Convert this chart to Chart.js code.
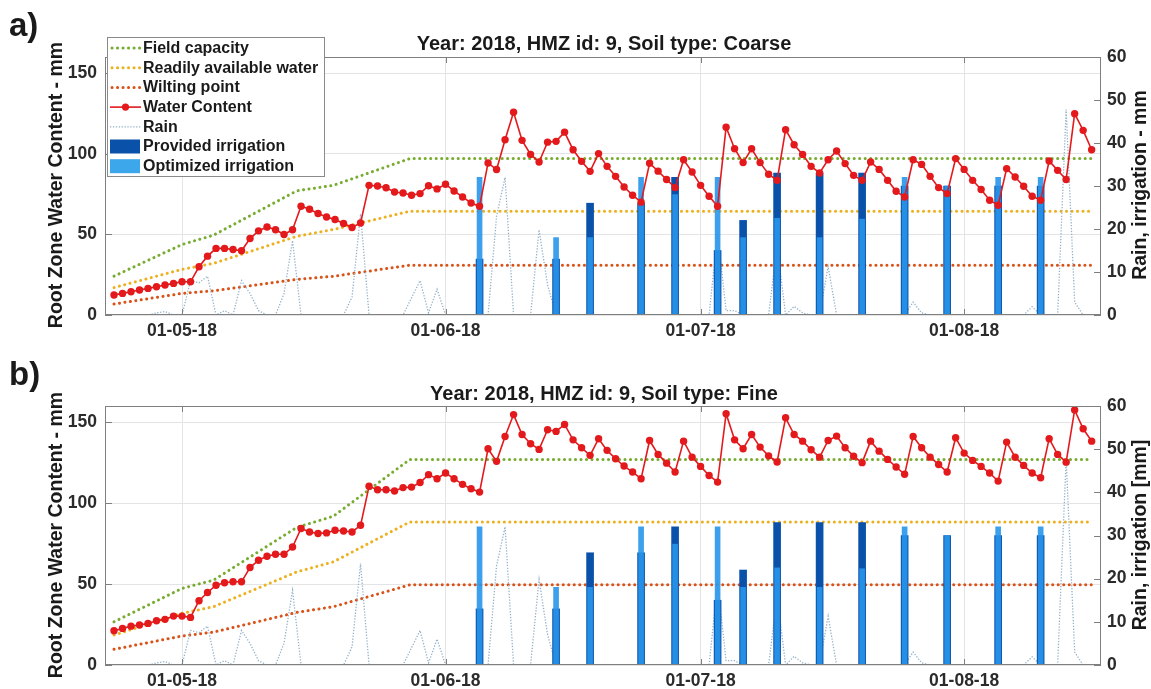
<!DOCTYPE html>
<html>
<head>
<meta charset="utf-8">
<script src="https://cdn.jsdelivr.net/npm/chart.js@4.4.1/dist/chart.umd.min.js"></script>
<style>
  body { margin:0; background:#fff; }
  #wrap { position:relative; width:1151px; height:689px; overflow:hidden; background:#fff;
          font-family:'Liberation Sans', Arial, Helvetica, sans-serif; }
  canvas { position:absolute; left:0; }
  .t { position:absolute; font-weight:bold; color:#1a1a1a; white-space:nowrap; line-height:1; }
  .c { transform:translate(-50%,-50%); }
  .r { transform:translate(-50%,-50%) rotate(-90deg); }
</style>
</head>
<body>
<div id="wrap">
  <canvas id="cA" width="1151" height="345" style="top:0"></canvas>
  <canvas id="cB" width="1151" height="344" style="top:345px"></canvas>
  <div class="t" style="left:9px;top:8px;font-size:33px">a)</div>
  <div class="t" style="left:9px;top:357px;font-size:33px">b)</div>
  <div class="t c" style="left:604px;top:43px;font-size:20px">Year: 2018, HMZ id: 9, Soil type: Coarse</div>
  <div class="t c" style="left:604px;top:393px;font-size:20px">Year: 2018, HMZ id: 9, Soil type: Fine</div>
  <div class="t r" style="left:56px;top:185px;font-size:19.5px">Root Zone Water Content - mm</div>
  <div class="t r" style="left:56px;top:535px;font-size:19.5px">Root Zone Water Content - mm</div>
  <div class="t r" style="left:1140px;top:185px;font-size:19.5px">Rain, irrigation - mm</div>
  <div class="t r" style="left:1140px;top:535px;font-size:19.5px">Rain, irrigation [mm]</div>
</div>
<script>
// ---- x axis: days since 23-04-2018 ----
const tickDays   = [8, 39, 69, 100];
const tickLabels = ['01-05-18', '01-06-18', '01-07-18', '01-08-18'];

// ---- water content (mm), one value per day from 23-04-2018 ----
const wcA = [12.4,13.4,14.4,15.5,16.5,17.5,18.6,19.6,20.6,20.6,
  29.9,36.5,41.3,41.3,40.6,39.8,47.4,52.2,54.6,52.9,
  49.9,52.9,67.4,65.6,62.9,60.8,59.2,56.7,54.3,57.1,
  80.4,80.0,78.9,76.3,75.7,74.3,75.3,80.2,78.2,81.1,
  76.9,73.2,69.5,67.4,94.3,90.2,108.7,125.8,108.3,99.6,
  94.9,107.2,107.7,113.4,102.5,95.3,89.1,100.1,92.2,86.0,
  79.4,74.3,70.0,94.1,89.2,84.0,79.0,96.3,88.7,80.4,
  73.6,67.4,116.5,103.1,94.5,103.1,94.5,87.3,83.5,114.9,
  105.6,99.6,92.2,88.1,96.3,101.7,93.9,86.6,83.5,94.9,
  90.3,83.5,76.7,73.2,96.3,93.4,86.0,79.0,75.3,97.0,
  90.3,83.5,77.8,71.2,68.1,90.8,85.6,79.8,73.6,71.2,
  95.5,89.7,84.0,124.8,114.5,102.5];
const wcB = [21.2,22.6,24.0,24.7,25.7,27.3,28.2,30.2,30.2,29.4,
  39.7,44.8,49.3,50.8,51.4,51.4,60.2,64.7,67.2,68.4,
  68.4,72.9,84.3,82.2,81.2,81.6,83.2,82.8,82.2,86.3,
  110.4,108.3,108.3,107.5,109.6,109.9,112.7,117.6,115.1,118.6,
  115.1,111.6,108.9,106.8,133.6,125.8,141.2,154.7,142.4,136.7,
  133.2,145.3,144.3,148.6,139.1,134.2,129.5,139.8,132.6,127.4,
  122.9,119.2,115.1,138.7,130.1,124.7,119.2,138.3,128.4,122.7,
  117.1,113.0,155.2,139.1,133.6,142.4,134.6,129.2,125.4,152.7,
  142.4,138.3,133.0,128.4,138.7,141.4,134.2,129.0,125.0,138.3,
  132.1,127.0,122.3,117.8,141.2,134.2,128.4,123.9,119.2,140.4,
  130.9,126.4,122.7,118.6,113.6,137.7,128.4,123.3,118.6,115.7,
  139.8,130.1,125.3,157.6,145.9,138.3];

// ---- rain (mm/day) ----
const rain = [0,0,0,0,0,0.5,0.8,0,0,8,
  7.5,9,0,1,0,8,5,1,0,0,
  5,17.3,0,0,0,0,0,0,4.2,23.5,
  0,0,0,0,0,4,8,0.5,6,0,
  0,0,0,0,0,23,32,0,0,0,
  19.8,7,0,0,0,0,0,0,0,0,
  0,0,0,0,0,0,0,0,0,0,
  0,19,1,1,0,0,0,0,16,0,
  2,0.5,0,0,11.3,0,0,0,0,0,
  0,0,0,0,3,0.5,0,0,0,0,
  0,0,0,0,0,0,0,0,1.9,0,
  0,0,47.8,3,0,0];

// ---- irrigation events ----
const irrDays   = [43, 52, 56, 62, 66, 71, 74, 78, 83, 88, 93, 98, 104, 109];
const provided  = [13, 13, 26, 26, 32, 15, 22, 33, 33, 33, 30, 30, 30, 30];
const optimized = [32, 18, 18, 32, 28, 32, 18, 22.5, 18, 22.3, 32, 30, 32, 32];

// ---- soil thresholds (vertices of the piecewise lines) ----
const thrDays = [0, 8, 11.7, 21.5, 25.8, 34.8, 115];
const fcA  = [24.1, 43.7, 49.5, 77.0, 80.4, 97.0, 97.0];
const rawA = [17.0, 28.3, 32.0, 48.8, 53.0, 64.4, 64.4];
const wpA  = [6.8, 13.4, 15.0, 22.1, 24.0, 30.9, 30.9];
const fcB  = [26.7, 47.3, 52.4, 85.0, 91.9, 127.0, 127.0];
const rawB = [18.5, 31.9, 36.0, 57.5, 63.7, 88.4, 88.4];
const wpB  = [9.7, 17.9, 20.3, 32.5, 36.0, 49.5, 49.5];

const leftTicks  = [0, 50, 100, 150];
const rightTicks = [0, 10, 20, 30, 40, 50, 60];

const COL = {
  fc: '#77ac30', raw: '#edb120', wp: '#d95319', wc: '#e3191c',
  rain: '#93b2c9', prov: '#0a51aa', opt: 'rgba(40,150,235,0.9)', optLeg: '#3ca7ea'
};
const FONT = "'Liberation Sans', Arial, sans-serif";

const series = (ys) => ys.map((v, i) => ({ x: i, y: v }));
const pairs = (xs, ys) => xs.map((x, i) => ({ x: x, y: ys[i] }));

function dotted(label, xs, ys, color, order) {
  return { type: 'line', label, data: pairs(xs, ys), borderColor: color, backgroundColor: color,
    borderWidth: 3, borderDash: [0.1, 5.4], borderCapStyle: 'round', pointRadius: 0,
    tension: 0, yAxisID: 'y', order, kind: 'dot' };
}

const frame = {
  id: 'frame',
  afterDraw(chart, args, opts) {
    const ctx = chart.ctx;
    const { left, right, top, bottom } = chart.chartArea;
    ctx.save();
    ctx.strokeStyle = '#7f7f7f';
    ctx.lineWidth = 1;
    ctx.strokeRect(left + 0.5, top + 0.5, right - left - 1, bottom - top - 1);
    ctx.beginPath();
    chart.scales.x.ticks.forEach(t => {
      const p = Math.round(chart.scales.x.getPixelForValue(t.value)) + 0.5;
      ctx.moveTo(p, bottom); ctx.lineTo(p, bottom - 6);
      ctx.moveTo(p, top); ctx.lineTo(p, top + 6);
    });
    chart.scales.y.ticks.forEach(t => {
      const p = Math.round(chart.scales.y.getPixelForValue(t.value)) + 0.5;
      ctx.moveTo(left, p); ctx.lineTo(left + 7, p);
    });
    chart.scales.y1.ticks.forEach(t => {
      const p = Math.round(chart.scales.y1.getPixelForValue(t.value)) + 0.5;
      ctx.moveTo(right, p); ctx.lineTo(right - 7, p);
    });
    ctx.stroke();

    if (opts.legend) {
      const bx = 107, by = 37, bw = 217, bh = 139;
      ctx.fillStyle = '#fff';
      ctx.fillRect(bx, by, bw, bh);
      ctx.strokeStyle = '#8a8a8a';
      ctx.strokeRect(bx + 0.5, by + 0.5, bw, bh);
      ctx.font = 'bold 16px ' + FONT;
      ctx.textBaseline = 'middle';
      chart.data.datasets.forEach((ds, i) => {
        const y = 48 + i * 19.7;
        ctx.save();
        if (ds.kind === 'dot') {
          ctx.strokeStyle = ds.borderColor; ctx.lineWidth = 3; ctx.lineCap = 'round';
          ctx.setLineDash([0.1, 5.4]);
          ctx.beginPath(); ctx.moveTo(112, y); ctx.lineTo(140, y); ctx.stroke();
        } else if (ds.kind === 'wc') {
          ctx.strokeStyle = ds.borderColor; ctx.lineWidth = 1.6;
          ctx.beginPath(); ctx.moveTo(110, y); ctx.lineTo(141, y); ctx.stroke();
          ctx.fillStyle = ds.borderColor;
          ctx.beginPath(); ctx.arc(125.5, y, 3.6, 0, Math.PI * 2); ctx.fill();
        } else if (ds.kind === 'rain') {
          ctx.strokeStyle = ds.borderColor; ctx.lineWidth = 1.3; ctx.setLineDash([1.3, 1.6]);
          ctx.beginPath(); ctx.moveTo(110, y); ctx.lineTo(141, y); ctx.stroke();
        } else if (ds.kind === 'bar') {
          ctx.fillStyle = ds.legendColor;
          ctx.fillRect(110, y - 7, 30, 14);
        }
        ctx.restore();
        ctx.fillStyle = '#1a1a1a';
        ctx.fillText(ds.label, 143, y + 0.5);
      });
    }
    ctx.restore();
  }
};

function makeChart(canvasId, wc, fc, raw, wp, padTop, xH, withLegend) {
  const datasets = [
    dotted('Field capacity', thrDays, fc, COL.fc, 6),
    dotted('Readily available water', thrDays, raw, COL.raw, 5),
    dotted('Wilting point', thrDays, wp, COL.wp, 4),
    { type: 'line', label: 'Water Content', data: series(wc), borderColor: COL.wc, backgroundColor: COL.wc,
      borderWidth: 1.6, pointRadius: 3.7, pointBorderWidth: 0, pointBackgroundColor: COL.wc,
      tension: 0, yAxisID: 'y', order: 0, kind: 'wc' },
    { type: 'line', label: 'Rain', data: series(rain), borderColor: COL.rain, borderWidth: 1.3,
      borderDash: [1.3, 1.6], pointRadius: 0, tension: 0, yAxisID: 'y1', order: 3, kind: 'rain' },
    { type: 'bar', label: 'Provided irrigation', data: pairs(irrDays, provided), backgroundColor: COL.prov,
      barThickness: 7, grouped: false, yAxisID: 'y1', order: 2, kind: 'bar', legendColor: COL.prov },
    { type: 'bar', label: 'Optimized irrigation', data: pairs(irrDays, optimized), backgroundColor: COL.opt,
      barThickness: 5, grouped: false, yAxisID: 'y1', order: 1, kind: 'bar', legendColor: COL.optLeg }
  ];
  const tickFont = { family: FONT, size: 17.5, weight: 'bold' };
  return new Chart(document.getElementById(canvasId), {
    type: 'line',
    data: { datasets },
    plugins: [frame],
    options: {
      responsive: false, animation: false, devicePixelRatio: 1,
      layout: { padding: { top: padTop, left: 0, right: 0, bottom: 0 } },
      plugins: { legend: { display: false }, tooltip: { enabled: false }, frame: { legend: withLegend } },
      scales: {
        x: {
          type: 'linear', min: -1.06, max: 116.1, offset: false,
          afterBuildTicks: s => { s.ticks = tickDays.map(v => ({ value: v })); },
          afterFit: s => { s.height = xH; },
          ticks: { font: tickFont, color: '#2b2b2b', padding: 6, maxRotation: 0,
                   callback: v => tickLabels[tickDays.indexOf(v)] },
          grid: { color: '#e4e4e4', drawTicks: false, offset: false },
          border: { display: false }
        },
        y: {
          position: 'left', min: 0, max: 160,
          afterBuildTicks: s => { s.ticks = leftTicks.map(v => ({ value: v })); },
          afterFit: s => { s.width = 105; },
          ticks: { font: tickFont, color: '#2b2b2b', padding: 8 },
          grid: { color: '#e4e4e4', drawTicks: false },
          border: { display: false }
        },
        y1: {
          position: 'right', min: 0, max: 60,
          afterBuildTicks: s => { s.ticks = rightTicks.map(v => ({ value: v })); },
          afterFit: s => { s.width = 50; },
          ticks: { font: tickFont, color: '#2b2b2b', padding: 6 },
          grid: { display: false, drawTicks: false },
          border: { display: false }
        }
      }
    }
  });
}

makeChart('cA', wcA, fcA, rawA, wpA, 57, 30, true);
makeChart('cB', wcB, fcB, rawB, wpB, 61, 24, false);
</script>
</body>
</html>
